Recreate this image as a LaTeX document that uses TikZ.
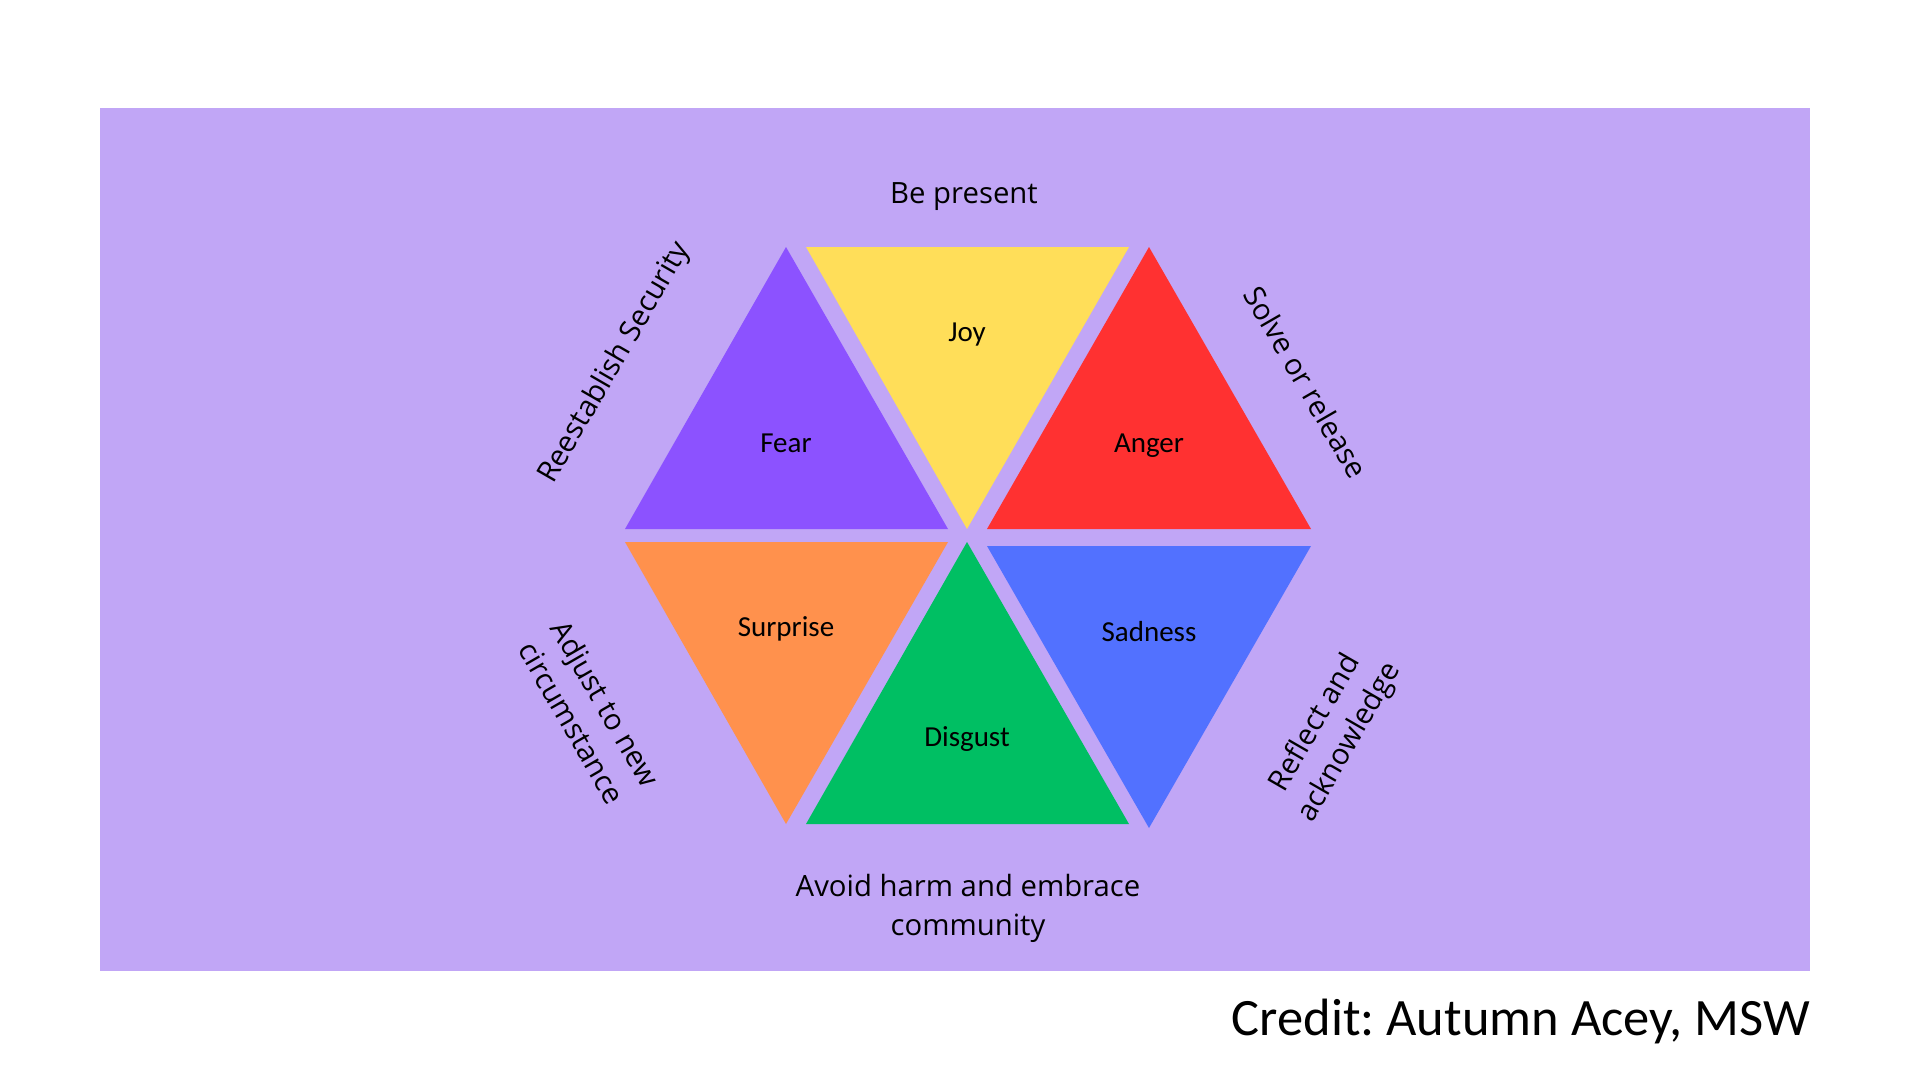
\documentclass[tikz,border=0pt]{standalone}
\usepackage{fontspec}
\newfontfamily\emofont{Carlito}
\newfontfamily\needfont{Open Sans}
\usetikzlibrary{positioning}
\frenchspacing
\definecolor{bgpurple}{HTML}{C1A6F6}
\definecolor{fearc}{HTML}{8C52FF}
\definecolor{joyc}{HTML}{FFDE59}
\definecolor{angerc}{HTML}{FF3131}
\definecolor{surprisec}{HTML}{FF914D}
\definecolor{disgustc}{HTML}{00BF63}
\definecolor{sadnessc}{HTML}{5271FF}

\begin{document}
\begin{tikzpicture}[x=1pt,y=-1pt,
  every node/.style={text=black,inner sep=0pt},
  emotion/.style={font=\emofont\fontsize{29}{34}\selectfont},
  need/.style={font=\needfont\fontsize{29.3}{39}\selectfont,align=center}]
\useasboundingbox (0,0) rectangle (1920,1080);
\fill[white] (0,0) rectangle (1920,1080);
\fill[bgpurple] (100,108) rectangle (1810,971);

% top row of the hexagon
\fill[fearc] (625,529) -- (786,247) -- (948,529) -- cycle;
\fill[joyc] (806,247) -- (1129,247) -- (967,529) -- cycle;
\fill[angerc] (987,529) -- (1149,247) -- (1311,529) -- cycle;
% bottom row
\fill[surprisec] (625,542) -- (948,542) -- (786,824) -- cycle;
\fill[disgustc] (806,824) -- (967,542) -- (1129,824) -- cycle;
\fill[sadnessc] (987,546) -- (1311,546) -- (1149,828) -- cycle;

% emotions
\node[emotion] (fear) at (786,443) {Fear};
\node[emotion] (joy) at (967,335) {Joy};
\node[emotion] (anger) at (1149,446) {Anger};
\node[emotion] (surprise) at (786,629) {Surprise};
\node[emotion] (disgust) at (967,739) {Disgust};
\node[emotion] (sadness) at (1149,632) {Sadness};

% what each one asks for
\node[need] (present) at (964,197) {Be present};
\node[need,rotate=60] (security) at (615,363) {Reestablish Security};
\node[need,rotate=-60] (solve) at (1306,382) {Solve or release};
\node[need,rotate=-60] (adjust) at (589,713) {Adjust to new\\circumstance};
\node[need,rotate=60] (reflect) at (1333,733) {Reflect and\\acknowledge};
\node[need] (avoid) at (968,908) {Avoid harm and embrace\\community};

\node[anchor=base east,font=\emofont\fontsize{52.5}{60}\selectfont] (credit) at (1810,1035) {Credit: Autumn Acey, MSW};
\end{tikzpicture}
\end{document}
